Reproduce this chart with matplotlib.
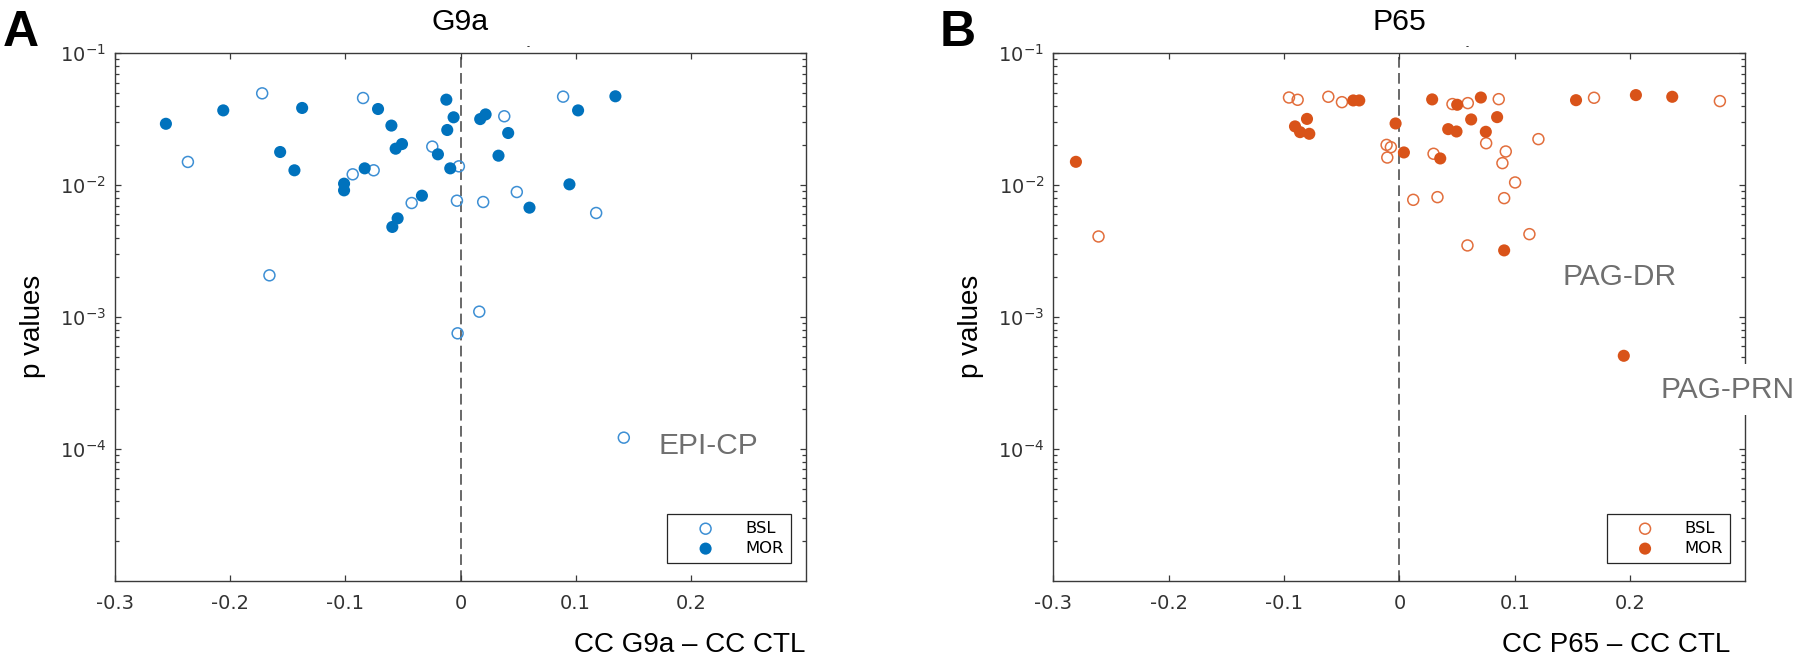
import matplotlib
matplotlib.use("Agg")
import matplotlib.pyplot as plt
from matplotlib.ticker import LogLocator, FixedLocator, FixedFormatter, NullFormatter

# ---------------- data ----------------
g9a_bsl_x = [-0.2367, -0.1722, -0.1659, -0.0936, -0.0754, -0.0846, -0.0424, -0.0245, -0.0014,
             -0.0031, 0.0380, 0.0197, 0.0489, 0.0891, 0.1178, 0.0163, -0.0025, 0.1418]
g9a_bsl_p = [0.0150, 0.0497, 0.00207, 0.01208, 0.01296, 0.0458, 0.00732, 0.0196, 0.01389,
             0.00762, 0.0333, 0.00745, 0.00887, 0.0469, 0.00615, 0.001098, 0.000752, 0.0001216]
g9a_mor_x = [-0.2558, -0.2060, -0.1566, -0.1375, -0.1442, -0.1011, -0.1011, -0.0832, -0.0716,
             -0.0600, -0.0563, -0.0508, -0.0335, -0.0546, -0.0592, -0.0196, -0.0123, -0.0060,
             -0.0115, -0.0089, 0.0171, 0.0218, 0.0414, 0.0330, 0.0599, 0.1021, 0.1345, 0.0946]
g9a_mor_p = [0.0292, 0.0369, 0.01784, 0.0385, 0.01296, 0.01026, 0.00913, 0.01341, 0.0378,
             0.0283, 0.0189, 0.0205, 0.00832, 0.0056, 0.00482, 0.01713, 0.0445, 0.0327,
             0.0262, 0.01341, 0.0317, 0.0344, 0.02486, 0.01673, 0.00675, 0.0369, 0.0472, 0.01014]

p65_bsl_x = [-0.2608, -0.0957, -0.0882, -0.0616, -0.0498, -0.0111, -0.0074, -0.0105, 0.0460,
             0.0593, 0.0861, 0.0752, 0.0296, 0.0922, 0.0893, 0.1205, 0.1003, 0.0120,
             0.0330, 0.0908, 0.1127, 0.0590, 0.1687, 0.2778]
p65_bsl_p = [0.00408, 0.0462, 0.0444, 0.0468, 0.0426, 0.0202, 0.0194, 0.0162, 0.0412,
             0.0419, 0.0449, 0.0208, 0.0173, 0.0180, 0.01469, 0.02234, 0.01048, 0.00774,
             0.00811, 0.00797, 0.00425, 0.00349, 0.0460, 0.0434]
p65_mor_x = [-0.2804, -0.0400, -0.0348, -0.0801, -0.0905, -0.0861, -0.0781, -0.0033, 0.0039,
             0.0284, 0.0501, 0.0706, 0.0622, 0.0847, 0.0423, 0.0495, 0.0749, 0.0354,
             0.0908, 0.1531, 0.2050, 0.2365, 0.1945]
p65_mor_p = [0.01503, 0.0439, 0.0439, 0.0318, 0.0279, 0.02524, 0.02452, 0.02936, 0.0177,
             0.0447, 0.0407, 0.0462, 0.0315, 0.0328, 0.0266, 0.02553, 0.02539, 0.01594,
             0.0032, 0.0441, 0.0482, 0.0468, 0.000508]

x_ticks = [-0.3, -0.2, -0.1, 0.0, 0.1, 0.2]
x_tick_labels = ["-0.3", "-0.2", "-0.1", "0", "0.1", "0.2"]
y_ticks = [1e-4, 1e-3, 1e-2, 1e-1]
legend_labels = ["BSL", "MOR"]

panels = [
    dict(letter="A", title="G9a", xlabel="CC G9a \u2013 CC CTL",
         bx=g9a_bsl_x, bp=g9a_bsl_p, mx=g9a_mor_x, mp=g9a_mor_p,
         fill="#0072BD", edge="#3d8fd4",
         notes=[("EPI-CP", 0.172, 9.14e-5, False)]),
    dict(letter="B", title="P65", xlabel="CC P65 \u2013 CC CTL",
         bx=p65_bsl_x, bp=p65_bsl_p, mx=p65_mor_x, mp=p65_mor_p,
         fill="#D95319", edge="#e26e3c",
         notes=[("PAG-DR", 0.1418, 1.754e-3, False), ("PAG-PRN", 0.2263, 2.45e-4, True)]),
]

W, H = 1800, 659
fig = plt.figure(figsize=(W / 100, H / 100), dpi=100)

ax_rects = [
    [115 / W, 78.3 / H, 691 / W, 527.4 / H],
    [1053.3 / W, 78.3 / H, 692.2 / W, 527.4 / H],
]
letter_x = [3 / W, 940 / W]
xlabel_cx = [690 / W, 1616 / W]
ylabel_cx = [33 / W, 971 / W]

sans = ["Liberation Sans", "DejaVu Sans"]
spine_c = "#3a3a3a"
tick_c = "#333333"
note_c = "#6f6f6f"

for i, pn in enumerate(panels):
    ax = fig.add_axes(ax_rects[i])
    ax.set_yscale("log")
    ax.set_xlim(-0.3, 0.3)
    ax.set_ylim(1e-5, 1e-1)

    ax.axvline(0, color="#404040", lw=1.1, ls=(0, (7, 3.5)), zorder=1)

    h1 = ax.scatter(pn["bx"], pn["bp"], s=62, facecolors="none", edgecolors=pn["edge"],
                    linewidths=1.1, zorder=3, label=legend_labels[0])
    h2 = ax.scatter(pn["mx"], pn["mp"], s=76, facecolors=pn["fill"], edgecolors="none",
                    zorder=4, label=legend_labels[1])

    ax.xaxis.set_major_locator(FixedLocator(x_ticks))
    ax.xaxis.set_major_formatter(FixedFormatter(x_tick_labels))
    ax.yaxis.set_major_locator(FixedLocator(y_ticks))
    ax.yaxis.set_minor_locator(LogLocator(base=10, subs=range(2, 10), numticks=20))
    ax.yaxis.set_minor_formatter(NullFormatter())

    ax.tick_params(axis="both", which="both", direction="in", top=True, right=True,
                   colors=spine_c, labelcolor=tick_c, labelsize=14, width=0.9)
    ax.tick_params(axis="both", which="major", length=4.3)
    ax.tick_params(axis="both", which="minor", length=2.6)
    ax.tick_params(axis="x", pad=9.5)
    ax.tick_params(axis="y", pad=6.5)
    for sp in ax.spines.values():
        sp.set_color(spine_c)
        sp.set_linewidth(1.0)

    leg = ax.legend(handles=[h1, h2], loc="lower right", bbox_to_anchor=(0.978, 0.033),
                    borderaxespad=0, fontsize=11.8, frameon=True, fancybox=False,
                    framealpha=1, edgecolor="#262626", handlelength=3.8,
                    handletextpad=0.5, borderpad=0.45, labelspacing=0.3)
    leg.get_frame().set_linewidth(0.9)

    for (txt, nx, ny, boxed) in pn["notes"]:
        kw = {}
        if boxed:
            kw["bbox"] = dict(facecolor="white", edgecolor="none", pad=8)
        ax.text(nx, ny, txt, fontsize=21.5, color=note_c, family=sans,
                ha="left", va="baseline", zorder=10, clip_on=False, **kw)

    # title
    cx = ax_rects[i][0] + ax_rects[i][2] / 2
    fig.text(cx, (H - 30) / H, pn["title"], fontsize=21.8, family=sans,
             ha="center", va="baseline")
    # tiny dash artifact above the top axis
    ax.text(0.059, 1.012, "-", transform=ax.get_xaxis_transform(), fontsize=6,
            ha="center", va="center", clip_on=False)
    # axis labels (kept just inside the bottom edge)
    fig.text(xlabel_cx[i], 1.0 / H, pn["xlabel"], fontsize=20, family=sans,
             ha="center", va="bottom")
    fig.text(ylabel_cx[i], (H - 326) / H, "p values", fontsize=20, family=sans,
             ha="center", va="center", rotation=90)
    # panel letter
    fig.text(letter_x[i], (H - 46) / H, pn["letter"], fontsize=36, fontweight="bold",
             family=sans, ha="left", va="baseline")

fig.savefig("out.png", dpi=100)
